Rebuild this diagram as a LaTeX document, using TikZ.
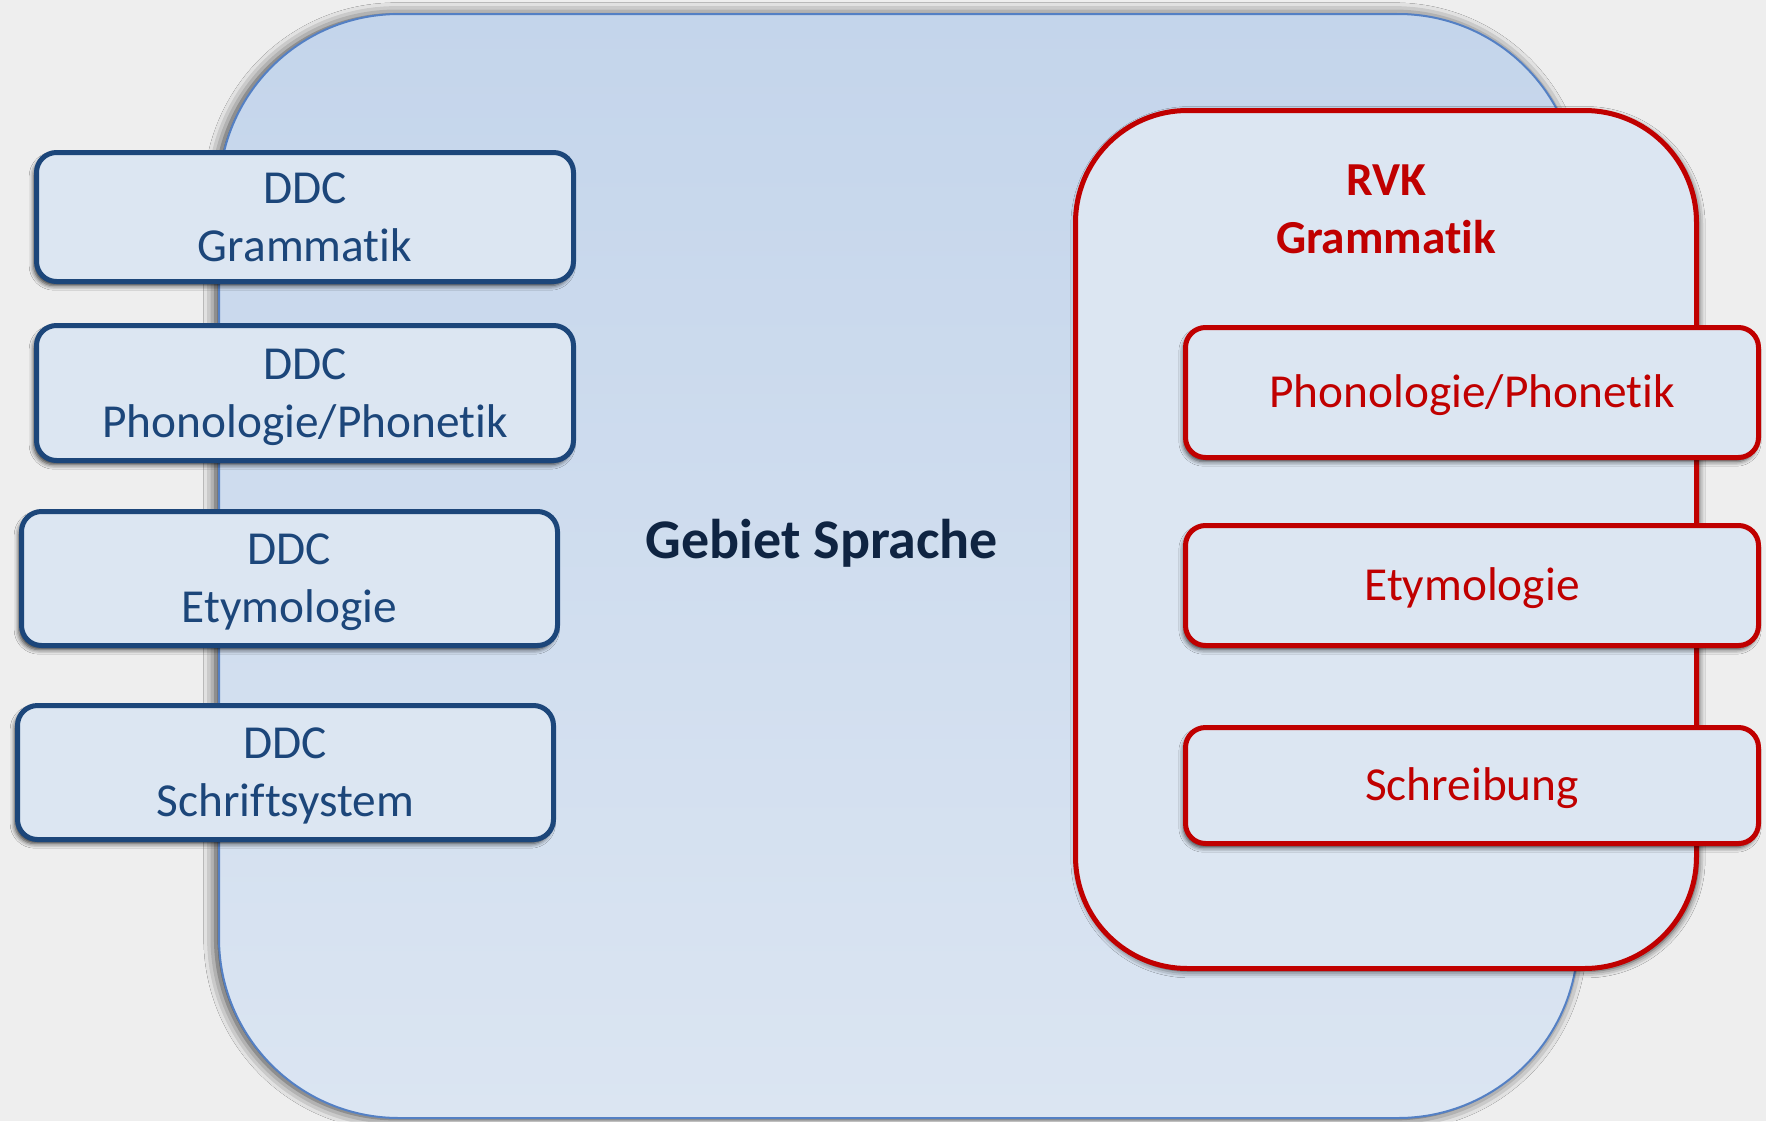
\documentclass[tikz,border=0pt]{standalone}
\usepackage{fontspec}
\setmainfont{Carlito}[Ligatures=NoCommon]
\usetikzlibrary{shadows.blur}

\definecolor{bgGrey}{RGB}{238,238,238}
\definecolor{areaLine}{RGB}{84,128,196}
\definecolor{areaTop}{RGB}{196,213,235}
\definecolor{areaBottom}{RGB}{219,229,242}
\definecolor{ddcBlue}{RGB}{28,70,122}
\definecolor{rvkRed}{RGB}{192,0,0}
\definecolor{boxFill}{RGB}{220,230,242}
\definecolor{titleNavy}{RGB}{15,36,66}

\tikzset{every picture/.style={line width=0.75pt}}
\tikzset{
  areabox/.style={draw=areaLine, line width=1.5pt, top color=areaTop, bottom color=areaBottom,
    rounded corners=135pt, inner sep=0pt,
    blur shadow={shadow xshift=-2.5pt, shadow yshift=-0.5pt, shadow blur radius=9pt, shadow opacity=80}},
  ddcbox/.style={draw=ddcBlue, line width=3.75pt, fill=boxFill, rounded corners=15pt,
    align=center, text=ddcBlue, inner sep=0pt, text depth=0pt, font=\fontsize{35.5}{43.5}\selectfont,
    blur shadow={shadow xshift=-2pt, shadow yshift=-3pt, shadow blur radius=3.5pt, shadow opacity=80}},
  rvkbox/.style={draw=rvkRed, line width=3.75pt, fill=boxFill, rounded corners=84pt, inner sep=0pt,
    blur shadow={shadow xshift=1.5pt, shadow yshift=-2pt, shadow blur radius=5pt, shadow opacity=80}},
  rvkitem/.style={draw=rvkRed, line width=3.75pt, fill=boxFill, rounded corners=15pt,
    text=rvkRed, inner sep=0pt, text height=22pt, text depth=0pt, font=\fontsize{35.5}{43.5}\selectfont,
    blur shadow={shadow xshift=-1.5pt, shadow yshift=-3pt, shadow blur radius=3.5pt, shadow opacity=75}},
}

\begin{document}
\begin{tikzpicture}[x=0.75pt,y=0.75pt,yscale=-1,xscale=1]
\useasboundingbox[fill=bgGrey] (0,0) rectangle (1766,1121);

%Rounded Rect: Gebiet Sprache
\node [areabox, minimum width=1359*0.75pt, minimum height=1104*0.75pt] (gebiet) at (898.5,566) {};
% Text Node
\node [anchor=base, inner sep=0pt, text=titleNavy, font=\fontsize{42}{50}\selectfont\bfseries] (gebietlabel) at (822,558) {Gebiet Sprache};

%Rounded Rect: DDC
\node [ddcbox, minimum width=537*0.75pt, minimum height=129*0.75pt] (ddcgram) at (305,217) {DDC\\Grammatik};
\node [ddcbox, minimum width=537*0.75pt, minimum height=135*0.75pt] (ddcphon) at (305,393) {DDC\\Phonologie/Phonetik};
\node [ddcbox, minimum width=536*0.75pt, minimum height=134*0.75pt] (ddcety) at (289.5,578.5) {DDC\\Etymologie};
\node [ddcbox, minimum width=536*0.75pt, minimum height=134*0.75pt] (ddcschrift) at (285.5,772.5) {DDC\\Schriftsystem};

%Rounded Rect: RVK
\node [rvkbox, minimum width=621*0.75pt, minimum height=858*0.75pt] (rvk) at (1386,539.5) {};
% Text Node
\node [align=center, inner sep=0pt, text=rvkRed, font=\fontsize{35.5}{43.5}\selectfont\bfseries] (rvklabel) at (1386,209) {RVK\\Grammatik};

\node [rvkitem, minimum width=573*0.75pt, minimum height=130*0.75pt] (rvkphon) at (1472,392.5) {Phonologie/Phonetik};
\node [rvkitem, minimum width=573*0.75pt, minimum height=120*0.75pt] (rvkety) at (1472,585.5) {Etymologie};
\node [rvkitem, minimum width=573*0.75pt, minimum height=116*0.75pt] (rvkschreib) at (1472,785.5) {Schreibung};

\end{tikzpicture}
\end{document}
